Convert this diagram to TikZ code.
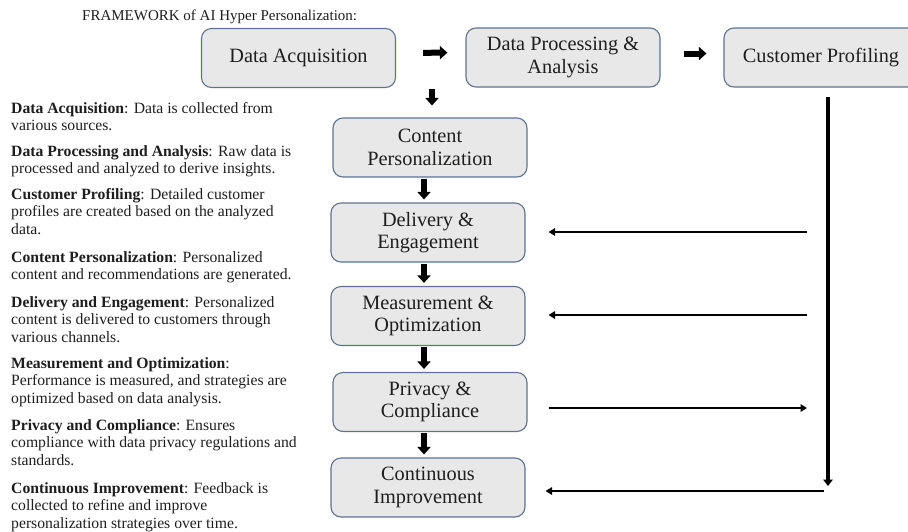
\documentclass[tikz,border=0pt]{standalone}
\usepackage{fontspec}
\setmainfont{Liberation Serif}
\usetikzlibrary{arrows.meta}

\definecolor{boxfill}{HTML}{E8E8E8}
\definecolor{boxline}{HTML}{5F7390}
\definecolor{inktext}{HTML}{1E1E1E}

\tikzset{
  stage/.style={draw=boxline, fill=boxfill, line width=1.1pt, rounded corners=10pt,
    minimum width=194pt, minimum height=59pt, inner sep=0pt, align=center,
    text=inktext, font=\fontsize{20.3}{22.5}\selectfont},
  blockarrow/.style={line width=6pt, -{Triangle[width=13pt,length=7.5pt]}},
  feedline/.style={line width=2.5pt, -{Triangle[width=7.5pt,length=6.5pt]}},
  trunk/.style={line width=4.2pt, -{Triangle[width=9.5pt,length=6.5pt]}},
  note/.style={anchor=north west, inner sep=0pt, align=left, text=inktext,
    font=\fontsize{15.7}{17.6}\selectfont},
}

\begin{document}
\begin{tikzpicture}[x=1pt, y=-1pt]
  \useasboundingbox (0,0) rectangle (908,531);

  % heading
  \node[anchor=west, inner sep=0pt, text=inktext, font=\fontsize{15}{18}\selectfont]
    (title) at (82,17) {FRAMEWORK of AI Hyper Personalization:};

  % top row of stages
  \node[stage] (acq)  at (298.5,58) {Data Acquisition};
  \node[stage] (proc) at (563,57.5) {Data Processing \&\\Analysis};
  \node[stage] (prof) at (821,57.5) {Customer Profiling};

  % central column of stages
  \node[stage] (cont) at (430,147.5) {Content\\Personalization};
  \node[stage] (deliv) at (428,232.5) {Delivery \&\\Engagement};
  \node[stage] (meas) at (428,316) {Measurement \&\\Optimization};
  \node[stage] (priv) at (430,402) {Privacy \&\\Compliance};
  \node[stage] (impr) at (428,487.5) {Continuous\\Improvement};

  % block arrows of the main flow
  \draw[blockarrow, shorten <=27pt, shorten >=18pt]
    ([yshift=5pt]acq.east) -- ([yshift=5pt]proc.west);
  \draw[blockarrow, shorten <=23pt, shorten >=17pt]
    ([yshift=4pt]proc.east) -- ([yshift=4pt]prof.west);
  \draw[blockarrow, shorten <=1pt, shorten >=12pt]
    ([xshift=2pt]acq.south -| cont.north) -- ([xshift=2pt]cont.north);
  \draw[blockarrow, shorten <=1pt, shorten >=3pt]
    ([xshift=-6pt]cont.south) -- ([xshift=-4pt]deliv.north);
  \draw[blockarrow, shorten <=1pt, shorten >=3pt]
    ([xshift=-4pt]deliv.south) -- ([xshift=-4pt]meas.north);
  \draw[blockarrow, shorten <=1pt, shorten >=3pt]
    ([xshift=-4pt]meas.south) -- ([xshift=-6pt]priv.north);
  \draw[blockarrow, shorten <=1pt, shorten >=3pt]
    ([xshift=-6pt]priv.south) -- ([xshift=-4pt]impr.north);

  % feedback trunk from the customer profile
  \coordinate (trunktop) at (828,97);
  \coordinate (trunkbot) at (828,486);
  \coordinate (tapD) at (807,232);
  \coordinate (tapM) at (807,315);
  \coordinate (tapP) at (807,408);
  \coordinate (tapC) at (824,491);

  \draw[trunk] (trunktop) -- (trunkbot);
  \draw[feedline, shorten >=23pt] (tapD) -- (tapD -| deliv.east);
  \draw[feedline, shorten >=23pt] (tapM) -- (tapM -| meas.east);
  \draw[feedline, shorten <=21pt] (tapP -| priv.east) -- (tapP);
  \draw[feedline, shorten >=20pt] (tapC) -- (tapC -| impr.east);

  % explanations
  \node[note] (nAcq) at (11,102) {\textbf{Data Acquisition}: Data is collected from\\various sources.};
  \node[note] (nProc) at (11,145) {\textbf{Data Processing and Analysis}: Raw data is\\processed and analyzed to derive insights.};
  \node[note] (nProf) at (11,188) {\textbf{Customer Profiling}: Detailed customer\\profiles are created based on the analyzed\\data.};
  \node[note] (nCont) at (11,251) {\textbf{Content Personalization}: Personalized\\content and recommendations are generated.};
  \node[note] (nDeliv) at (11,296) {\textbf{Delivery and Engagement}: Personalized\\content is delivered to customers through\\various channels.};
  \node[note] (nMeas) at (11,357) {\textbf{Measurement and Optimization}:\\Performance is measured, and strategies are\\optimized based on data analysis.};
  \node[note] (nPriv) at (11,419) {\textbf{Privacy and Compliance}: Ensures\\compliance with data privacy regulations and\\standards.};
  \node[note] (nImpr) at (11,482) {\textbf{Continuous Improvement}: Feedback is\\collected to refine and improve\\personalization strategies over time.};
\end{tikzpicture}
\end{document}
